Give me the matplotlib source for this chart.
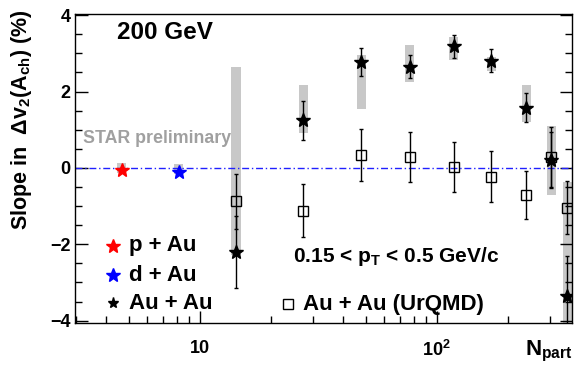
import numpy as np
import matplotlib.pyplot as plt
from matplotlib.ticker import FixedLocator, NullFormatter, LogLocator

plt.rcParams['font.family'] = ['Liberation Sans', 'DejaVu Sans']
plt.rcParams['font.weight'] = 'bold'
plt.rcParams['mathtext.fontset'] = 'custom'
plt.rcParams['mathtext.rm'] = 'Liberation Sans:bold'
plt.rcParams['mathtext.it'] = 'Liberation Sans:bold'
plt.rcParams['mathtext.bf'] = 'Liberation Sans:bold'
plt.rcParams['mathtext.default'] = 'rm'

# small systems
npart_pau = [4.67]
slope_pau = [-0.05]
sys_pau = [(-0.14, 0.12)]
npart_dau = [8.15]
slope_dau = [-0.10]
sys_dau = [(-0.15, 0.11)]

# Au+Au 200 GeV, centrality bins
npart_auau = [14.2, 27.3, 48.0, 77.0, 118.0, 170.0, 238.0, 304.0, 355.0]
slope_auau = [-2.20, 1.25, 2.78, 2.65, 3.19, 2.80, 1.58, 0.20, -3.35]
stat_auau = [0.95, 0.51, 0.37, 0.30, 0.30, 0.30, 0.39, 0.74, 1.05]
sys_auau_lo = [-2.28, 0.92, 1.55, 2.24, 2.82, 2.53, 1.20, -0.72, -6.0]
sys_auau_hi = [2.64, 2.17, 2.95, 3.21, 3.43, 2.90, 2.16, 1.09, -0.37]

# UrQMD
slope_urqmd = [-0.87, -1.12, 0.33, 0.29, 0.03, -0.23, -0.70, 0.28, -1.04]
err_urqmd = [0.72, 0.70, 0.68, 0.66, 0.66, 0.66, 0.63, 0.78, 0.70]

band_col = '#c8c8c8'
hw = 0.019  # half width of sys boxes in decades


def sys_box(ax, x, lo, hi):
    x = np.asarray(x, dtype=float)
    for xi, l, h in zip(x, lo, hi):
        ax.fill_between([xi * 10**-hw, xi * 10**hw], [l, l], [h, h],
                        color=band_col, lw=0, zorder=1)


fig = plt.figure(figsize=(5.74, 3.74), dpi=100)
ax = fig.add_axes([0.1307, 0.1356, 0.8653, 0.827])
ax.set_xscale('log')
ax.set_xlim(2.97, 371)
ax.set_ylim(-4.07, 4.03)

ax.axhline(0, color='#2020ff', lw=1.0, ls=(0, (5, 2, 1, 2)), zorder=2)

sys_box(ax, npart_pau, [s[0] for s in sys_pau], [s[1] for s in sys_pau])
sys_box(ax, npart_dau, [s[0] for s in sys_dau], [s[1] for s in sys_dau])
sys_box(ax, npart_auau, sys_auau_lo, sys_auau_hi)

ax.errorbar(npart_auau, slope_urqmd, yerr=err_urqmd, fmt='s', ms=7,
            mfc='none', mec='black', mew=1.0, ecolor='black', elinewidth=1.0,
            capsize=1.5, zorder=3)
ax.errorbar(npart_auau, slope_auau, yerr=stat_auau, fmt='*', ms=10,
            color='black', ecolor='black', elinewidth=1.0, capsize=1.5, zorder=4)
ax.plot(npart_pau, slope_pau, '*', ms=10, color='#ff0000', zorder=4)
ax.plot(npart_dau, slope_dau, '*', ms=10, color='#0000ff', zorder=4)

# ticks
ax.yaxis.set_major_locator(FixedLocator([-4, -2, 0, 2, 4]))
ax.yaxis.set_minor_locator(FixedLocator(np.arange(-4, 4.01, 0.5)))
ax.xaxis.set_major_locator(FixedLocator([10, 100]))
ax.xaxis.set_minor_locator(LogLocator(base=10, subs=np.arange(2, 10)))
ax.xaxis.set_minor_formatter(NullFormatter())
ax.set_xticklabels(['10', r'10$^{2}$'])
ax.tick_params(axis='both', which='both', direction='in', top=False, right=True,
               labelsize=13, width=1.0)
ax.tick_params(axis='y', which='major', length=9, pad=3)
ax.tick_params(axis='y', which='minor', length=5)
ax.tick_params(axis='x', which='major', length=9, pad=12)
ax.tick_params(axis='x', which='minor', length=5)
for s in ax.spines.values():
    s.set_linewidth(1.0)

# labels
fig.text(0.038, 0.975, r'Slope in  $\Delta$v$_{2}$(A$_{\rm ch}$) (%)', rotation=90,
         ha='center', va='top', fontsize=15.5)
fig.text(0.997, 0.06, r'N$_{\rm part}$', ha='right', va='center', fontsize=16)

ax.text(0.085, 0.939, '200 GeV', transform=ax.transAxes, fontsize=17.5, va='center')
ax.text(0.016, 0.596, 'STAR preliminary', transform=ax.transAxes, fontsize=12.8,
        color='#a0a0a0', va='center')
ax.text(0.439, 0.215, r'0.15 < p$_{\rm T}$ < 0.5 GeV/c', transform=ax.transAxes,
        fontsize=15, va='center')

# legend
leg = [('p + Au', 'red', 0.251, 10), ('d + Au', 'blue', 0.156, 10),
       ('Au + Au', 'black', 0.065, 8)]
for name, c, yy, size in leg:
    ax.plot([0.076], [yy], '*', ms=size, color=c, transform=ax.transAxes,
            clip_on=False)
    ax.text(0.109, yy, name, transform=ax.transAxes, fontsize=16, va='center')
ax.plot([0.428], [0.061], 's', ms=7, mfc='none', mec='black', mew=1.0,
        transform=ax.transAxes)
ax.text(0.459, 0.061, 'Au + Au (UrQMD)', transform=ax.transAxes, fontsize=16,
        va='center')

fig.savefig('out.png', dpi=100)
